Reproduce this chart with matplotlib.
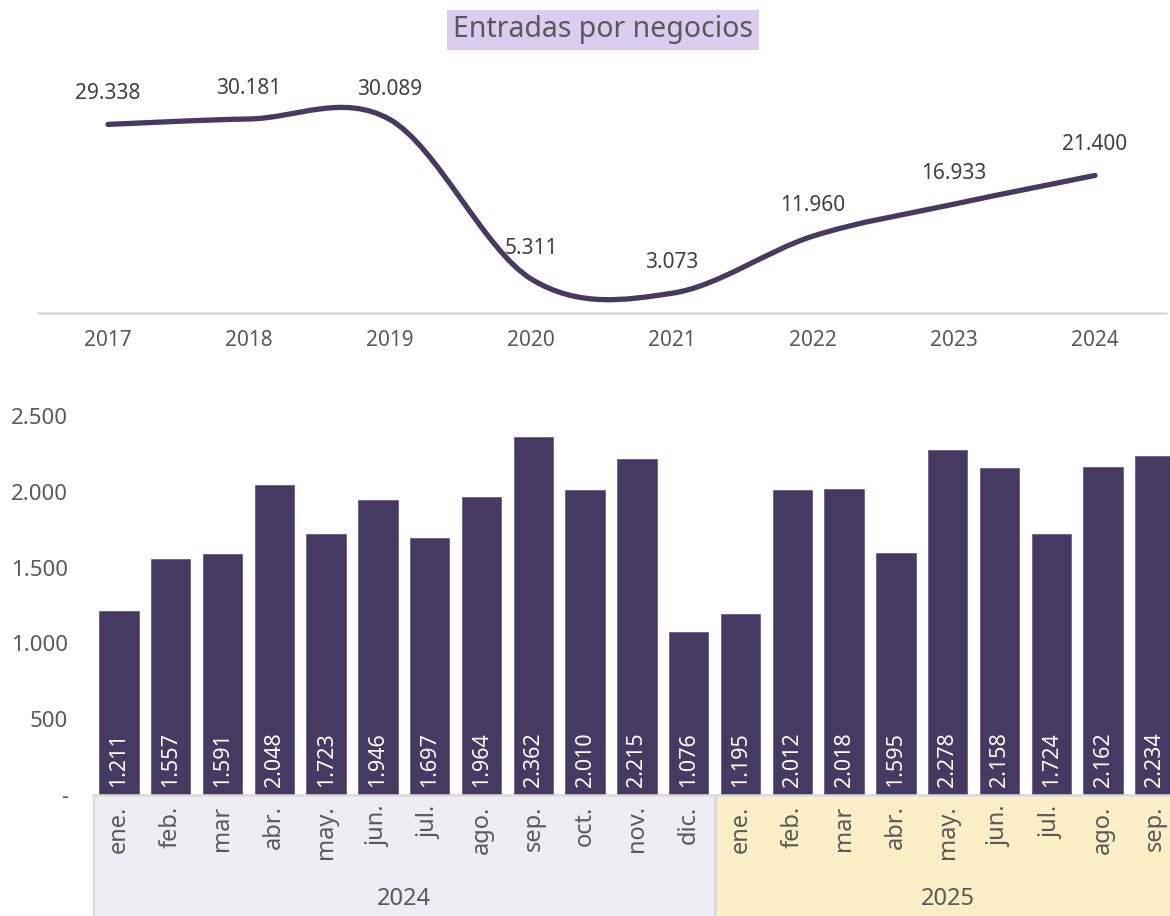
import matplotlib
matplotlib.use("Agg")
import matplotlib.pyplot as plt
from matplotlib.path import Path
from matplotlib.patches import PathPatch
import matplotlib.transforms as mtransforms

plt.rcParams['font.family'] = ['Noto Sans', 'DejaVu Sans']

# ==== DATA ====
years = ["2017", "2018", "2019", "2020", "2021", "2022", "2023", "2024"]
annual_entries = [29338, 30181, 30089, 5311, 3073, 11960, 16933, 21400]

months = ["ene.", "feb.", "mar", "abr.", "may.", "jun.", "jul.", "ago.", "sep.", "oct.", "nov.", "dic.",
          "ene.", "feb.", "mar", "abr.", "may.", "jun.", "jul.", "ago.", "sep."]
month_year = ["2024"] * 12 + ["2025"] * 9
monthly_entries = [1211, 1557, 1591, 2048, 1723, 1946, 1697, 1964, 2362, 2010, 2215, 1076,
                   1195, 2012, 2018, 1595, 2278, 2158, 1724, 2162, 2234]
y_ticks = [0, 500, 1000, 1500, 2000, 2500]

# ==== STYLE ====
purple = "#463A63"
grey_txt = "#595959"
axis_grey = "#D9D9D9"
band_colors = {"2024": "#EFEDF4", "2025": "#FCEFC7"}


def fmt(v):
    return "-" if v == 0 else f"{v:,}".replace(",", ".")


def smooth_path(xs, ys):
    # Excel-like smoothed line: Catmull-Rom segments as cubic beziers
    pts = list(zip(xs, ys))
    n = len(pts)
    verts = [pts[0]]
    codes = [Path.MOVETO]
    for i in range(n - 1):
        p0 = pts[max(i - 1, 0)]
        p1 = pts[i]
        p2 = pts[i + 1]
        p3 = pts[min(i + 2, n - 1)]
        c1 = (p1[0] + (p2[0] - p0[0]) / 6, p1[1] + (p2[1] - p0[1]) / 6)
        c2 = (p2[0] - (p3[0] - p1[0]) / 6, p2[1] - (p3[1] - p1[1]) / 6)
        verts += [c1, c2, p2]
        codes += [Path.CURVE4] * 3
    return Path(verts, codes)


W, H = 1170, 916
fig = plt.figure(figsize=(W / 100, H / 100), dpi=100)

# -- Top: annual line --
ax1 = fig.add_axes([37.5 / W, (H - 313) / H, 1128 / W, 225 / H])
x1 = list(range(len(years)))
patch = PathPatch(smooth_path(x1, annual_entries), facecolor="none", edgecolor=purple,
                  lw=3.8, capstyle="round", joinstyle="round")
ax1.add_patch(patch)
ax1.set_xlim(-0.5, len(years) - 0.5)
ax1.set_ylim(0, 35000)
for xi, v in zip(x1, annual_entries):
    ax1.annotate(fmt(v), (xi, v), xytext=(0, 22), textcoords="offset points",
                 ha="center", va="center", fontsize=15, color="#404040")
ax1.set_xticks(x1)
ax1.set_xticklabels(years, fontsize=15, color=grey_txt)
ax1.tick_params(axis="x", length=0, pad=12)
ax1.set_yticks([])
for s in ["top", "right", "left"]:
    ax1.spines[s].set_visible(False)
ax1.spines["bottom"].set_color(axis_grey)
ax1.spines["bottom"].set_linewidth(1.8)

fig.text(603 / W, 1 - 30 / H, "Entradas por negocios", ha="center", va="center",
         fontsize=20.5, color=grey_txt,
         bbox=dict(facecolor="#DCCCF0", edgecolor="none", boxstyle="square,pad=0.2"))

# -- Bottom: monthly bars --
n = len(months)
step = 51.8
left = 93
ax2 = fig.add_axes([left / W, (H - 795) / H, n * step / W, 379 / H])
x2 = list(range(n))
ax2.bar(x2, monthly_entries, width=0.76, color=purple, edgecolor="#6A5F85", linewidth=0.6)
ax2.set_xlim(-0.5, n - 0.5)
ax2.set_ylim(0, 2500)
ax2.set_yticks(y_ticks)
ax2.set_yticklabels([fmt(t) for t in y_ticks], fontsize=16, color=grey_txt)
ax2.tick_params(axis="y", length=0, pad=18)
ax2.set_xticks([])
for s in ["top", "right", "left"]:
    ax2.spines[s].set_visible(False)
ax2.spines["bottom"].set_color(axis_grey)
ax2.spines["bottom"].set_linewidth(1.8)
for xi, v in zip(x2, monthly_entries):
    ax2.annotate(fmt(v), (xi, 0), xytext=(0, 6), textcoords="offset points",
                 rotation=90, ha="center", va="bottom", fontsize=15.5, color="white")

# -- category band under the bars --
ax3 = fig.add_axes([left / W, 0, n * step / W, (H - 797) / H], sharex=ax2)
ax3.set_ylim(0, 1)
ax3.axis("off")
trans = mtransforms.blended_transform_factory(ax3.transData, ax3.transAxes)
for yr in ["2024", "2025"]:
    idx = [i for i, m in enumerate(month_year) if m == yr]
    lo, hi = idx[0] - 0.5, idx[-1] + 0.5
    ax3.axvspan(lo, hi, color=band_colors[yr], lw=0)
    ax3.axvline(lo, color=axis_grey, lw=2)
    ax3.text((lo + hi) / 2, 0.14, yr, transform=trans, ha="center", va="center",
             fontsize=17, color=grey_txt)
for xi, m in zip(x2, months):
    ax3.text(xi, 0.93, m, transform=trans, rotation=90, ha="center", va="top",
             fontsize=17, color=grey_txt)

fig.savefig("out.png", dpi=100)
